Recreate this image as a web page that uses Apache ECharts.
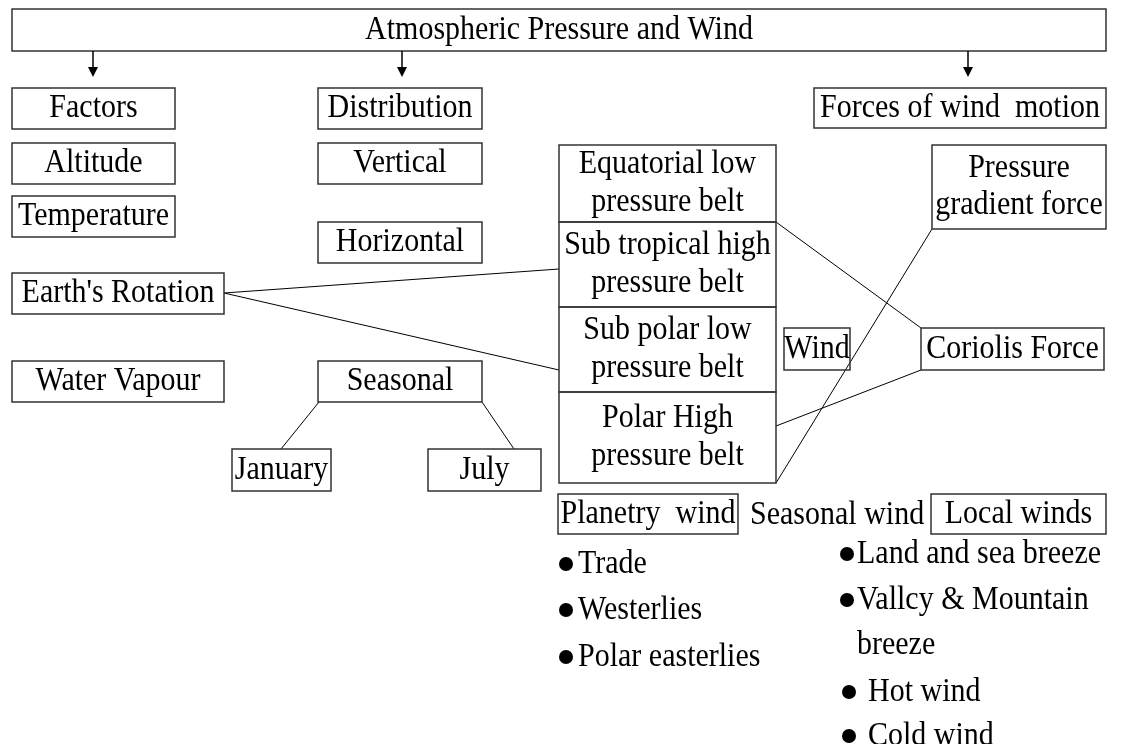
<!DOCTYPE html>
<html>
<head>
<meta charset="utf-8">
<script src="https://cdn.jsdelivr.net/npm/echarts@6/dist/echarts.min.js"></script>
<style>
  html, body { margin: 0; padding: 0; background: #fff; }
  #main { width: 1124px; height: 744px; }
</style>
</head>
<body>
<div id="main"></div>
<script>
// node labels and their rectangles [x0, y0, x1, y1] in page units
const boxLabels = [
  'Atmospheric Pressure and Wind',
  'Factors', 'Altitude', 'Temperature', "Earth's Rotation", 'Water Vapour',
  'Distribution', 'Vertical', 'Horizontal', 'Seasonal', 'January', 'July',
  'Equatorial low\npressure belt', 'Sub tropical high\npressure belt',
  'Sub polar low\npressure belt', 'Polar High\npressure belt',
  'Wind', 'Forces of wind  motion', 'Pressure\ngradient force', 'Coriolis Force',
  'Planetry  wind', 'Local winds'
];
const boxRects = [
  [12, 9, 1106, 51],
  [12, 88, 175, 129], [12, 143, 175, 184], [12, 196, 175, 237], [12, 273, 224, 314], [12, 361, 224, 402],
  [318, 88, 482, 129], [318, 143, 482, 184], [318, 222, 482, 263], [318, 361, 482, 402], [232, 449, 331, 491], [428, 449, 541, 491],
  [559, 145, 776, 222], [559, 222, 776, 307],
  [559, 307, 776, 392], [559, 392, 776, 483],
  [784, 328, 850, 370], [814, 88, 1106, 128], [932, 145, 1106, 229], [921, 328, 1104, 370],
  [558, 494, 738, 534], [931, 494, 1106, 534]
];

// connector lines [x0, y0, x1, y1]
const links = [
  [224, 293, 559, 269],
  [224, 293, 559, 370],
  [319, 402, 281, 449],
  [482, 402, 514, 449],
  [776, 222, 921, 328],
  [776, 426, 921, 370],
  [932, 229, 776, 483]
];

// arrows from the title [x, yFrom, yTo]
const arrows = [
  [93, 51, 77],
  [402, 51, 77],
  [968, 51, 77]
];

// free text [x, y, label]
const texts = [
  [750, 515, 'Seasonal wind'],
  [578, 564, 'Trade'],
  [578, 610, 'Westerlies'],
  [578, 657, 'Polar easterlies'],
  [857, 554, 'Land and sea breeze'],
  [857, 600, 'Vallcy & Mountain'],
  [857, 645, 'breeze'],
  [868, 692, 'Hot wind'],
  [868, 736, 'Cold wind']
];

// bullet dots [x, y]
const bullets = [
  [566, 564], [566, 610], [566, 657],
  [847, 554], [847, 600], [849, 692], [849, 736]
];

const FONT = "'Liberation Serif', 'Times New Roman', serif";
const FS = 30;
const STRETCH = 1.1; // glyphs in the source look slightly tall

const chart = echarts.init(document.getElementById('main'), null, { renderer: 'canvas' });

const option = {
  backgroundColor: '#fff',
  animation: false,
  grid: { left: 0, right: 0, top: 0, bottom: 0 },
  xAxis: { type: 'value', min: 0, max: 1124, show: false },
  yAxis: { type: 'value', min: 0, max: 744, inverse: true, show: false },
  series: [
    // connectors
    {
      type: 'custom',
      z: 1,
      data: links,
      renderItem: (params, api) => {
        const a = api.coord([api.value(0), api.value(1)]);
        const b = api.coord([api.value(2), api.value(3)]);
        return {
          type: 'line',
          shape: { x1: a[0], y1: a[1], x2: b[0], y2: b[1] },
          style: { stroke: '#000', lineWidth: 1 }
        };
      }
    },
    // boxes
    {
      type: 'custom',
      z: 2,
      data: boxRects,
      renderItem: (params, api) => {
        const p0 = api.coord([api.value(0), api.value(1)]);
        const p1 = api.coord([api.value(2), api.value(3)]);
        return {
          type: 'rect',
          shape: { x: p0[0], y: p0[1], width: p1[0] - p0[0], height: p1[1] - p0[1] },
          style: { fill: 'rgba(0,0,0,0)', stroke: '#333', lineWidth: 1.5 },
          textContent: {
            type: 'text',
            scaleY: STRETCH,
            style: {
              text: boxLabels[params.dataIndex],
              fontFamily: FONT,
              fontSize: FS,
              lineHeight: 34,
              fill: '#000',
              align: 'center',
              verticalAlign: 'middle'
            }
          },
          textConfig: { position: 'inside' }
        };
      }
    },
    // arrows
    {
      type: 'custom',
      z: 2,
      data: arrows,
      renderItem: (params, api) => {
        const a = api.coord([api.value(0), api.value(1)]);
        const b = api.coord([api.value(0), api.value(2)]);
        return {
          type: 'group',
          children: [
            {
              type: 'line',
              shape: { x1: a[0], y1: a[1], x2: b[0], y2: b[1] - 8 },
              style: { stroke: '#000', lineWidth: 1.5 }
            },
            {
              type: 'polygon',
              shape: { points: [[b[0] - 5, b[1] - 10], [b[0] + 5, b[1] - 10], [b[0], b[1]]] },
              style: { fill: '#000' }
            }
          ]
        };
      }
    },
    // free text
    {
      type: 'custom',
      z: 3,
      data: texts,
      renderItem: (params, api) => {
        const p = api.coord([api.value(0), api.value(1)]);
        return {
          type: 'text',
          x: p[0],
          y: p[1],
          scaleY: STRETCH,
          style: {
            text: texts[params.dataIndex][2],
            fontFamily: FONT,
            fontSize: FS,
            fill: '#000',
            align: 'left',
            verticalAlign: 'middle'
          }
        };
      }
    },
    // bullet dots
    {
      type: 'scatter',
      z: 3,
      symbol: 'circle',
      symbolSize: 14,
      itemStyle: { color: '#000', opacity: 1 },
      silent: true,
      data: bullets
    }
  ]
};

chart.setOption(option);
</script>
</body>
</html>
